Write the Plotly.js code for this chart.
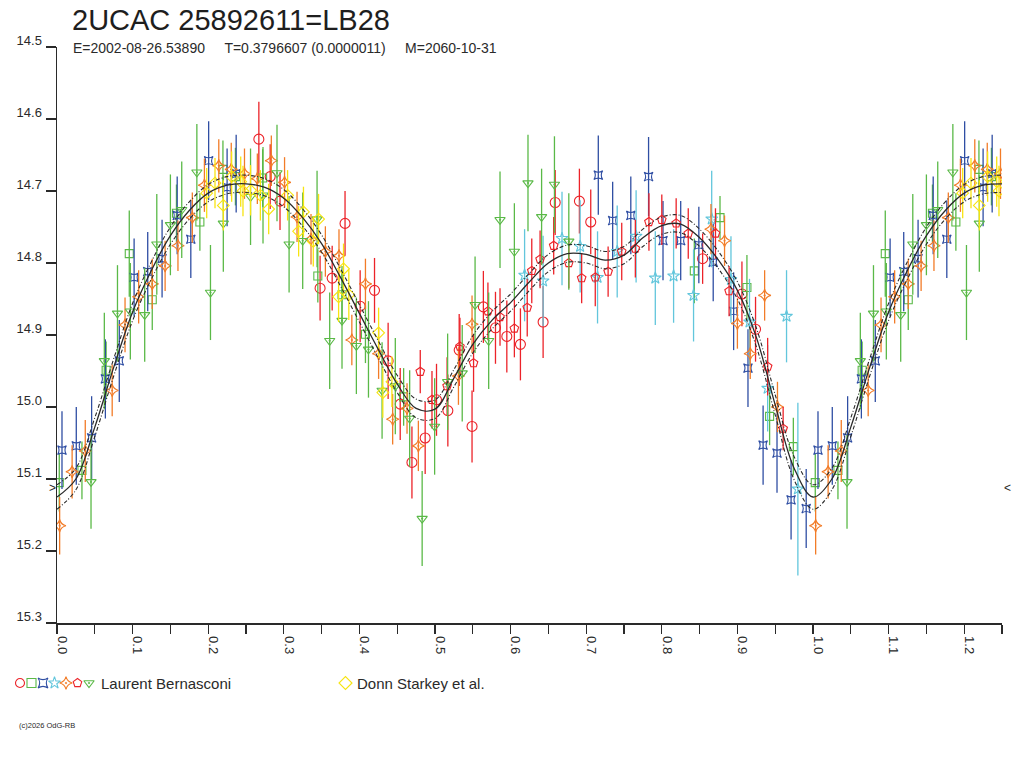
<!DOCTYPE html>
<html>
<head>
<meta charset="utf-8">
<script src="https://cdn.plot.ly/plotly-3.0.1.min.js"></script>
<style>
  html, body { margin: 0; padding: 0; background: #fff; }
  #chart { width: 1024px; height: 768px; }
</style>
</head>
<body>
<div id="chart"></div>
<script>
const W = 1024, H = 768
const PHASE_MAX = 1.25
const MIN_MARK = 15.113

const titleText = '2UCAC 25892611=LB28'
const subText = 'E=2002-08-26.53890\u00a0\u00a0\u00a0\u00a0\u00a0T=0.3796607 (0.0000011)\u00a0\u00a0\u00a0\u00a0\u00a0M=2060-10-31'
const observer1 = 'Laurent Bernasconi'
const observer2 = 'Donn Starkey et al.'

// fitted light curve (phase 0..1, repeated past 1)
const fitPhase = [0, 0.025, 0.05, 0.075, 0.1, 0.125, 0.15, 0.175, 0.2, 0.225, 0.25, 0.275, 0.3, 0.325, 0.35, 0.375,
  0.4, 0.425, 0.45, 0.475, 0.5, 0.525, 0.55, 0.575, 0.6, 0.625, 0.65, 0.675, 0.7, 0.725, 0.75, 0.775,
  0.8, 0.825, 0.85, 0.875, 0.9, 0.925, 0.95, 0.975]
const fitMag = [15.125, 15.100, 15.028, 14.945, 14.868, 14.810, 14.762, 14.727, 14.703, 14.692, 14.690, 14.695, 14.710, 14.737, 14.773, 14.820,
  14.870, 14.920, 14.968, 15.002, 15.003, 14.960, 14.913, 14.880, 14.855, 14.826, 14.800, 14.787, 14.788, 14.796, 14.789, 14.765,
  14.748, 14.746, 14.765, 14.796, 14.838, 14.903, 14.997, 15.085]
const fitErr = [0.017, 0.015, 0.013, 0.012, 0.012, 0.012, 0.012, 0.012, 0.012, 0.012, 0.012, 0.012, 0.012, 0.012, 0.012, 0.012,
  0.012, 0.012, 0.012, 0.013, 0.013, 0.012, 0.012, 0.012, 0.012, 0.012, 0.012, 0.012, 0.012, 0.012, 0.012, 0.012,
  0.012, 0.012, 0.012, 0.012, 0.012, 0.013, 0.014, 0.016]

// Laurent Bernasconi - red circles
const rcPhase = [0.267, 0.282, 0.295, 0.348, 0.364, 0.381, 0.401, 0.420, 0.438, 0.454, 0.4695, 0.487, 0.502, 0.517,
  0.532, 0.549, 0.564, 0.580, 0.595, 0.613, 0.643, 0.659, 0.691, 0.706, 0.854, 0.906, 0.924]
const rcMag = [14.628, 14.680, 14.714, 14.835, 14.821, 14.745, 14.860, 14.838, 14.936, 14.996, 15.077, 15.043, 14.990, 15.005,
  14.921, 15.027, 14.861, 14.890, 14.902, 14.913, 14.882, 14.716, 14.714, 14.743, 14.794, 14.843, 14.892]
const rcErr = [0.052, 0.045, 0.040, 0.045, 0.045, 0.045, 0.050, 0.045, 0.053, 0.050, 0.050, 0.050, 0.050, 0.050,
  0.050, 0.050, 0.050, 0.050, 0.050, 0.050, 0.050, 0.045, 0.045, 0.045, 0.035, 0.045, 0.045]

// green squares
const gsPhase = [0.003, 0.033, 0.065, 0.0956, 0.126, 0.158, 0.189, 0.2195, 0.236, 0.272, 0.345, 0.377, 0.408, 0.4585,
  0.843, 0.877, 0.9126, 0.9426, 0.974]
const gsMag = [15.105, 15.088, 14.949, 14.787, 14.851, 14.731, 14.743, 14.670, 14.680, 14.682, 14.818, 14.844, 14.899, 14.986,
  14.811, 14.737, 14.834, 15.013, 15.055]
const gsErr = [0.040, 0.040, 0.040, 0.060, 0.042, 0.040, 0.040, 0.040, 0.040, 0.040, 0.037, 0.040, 0.040, 0.040,
  0.045, 0.030, 0.045, 0.040, 0.040]

// blue squared stars
const bsPhase = [0.0066, 0.0255, 0.0458, 0.064, 0.0824, 0.102, 0.120, 0.139, 0.159, 0.177, 0.2006, 0.225, 0.237,
  0.716, 0.735, 0.759, 0.7825, 0.8016, 0.825, 0.849, 0.868, 0.895, 0.914, 0.934, 0.9524, 0.971, 0.991]
const bsMag = [15.060, 15.054, 15.043, 14.961, 14.936, 14.820, 14.812, 14.794, 14.734, 14.767, 14.658, 14.695, 14.676,
  14.678, 14.741, 14.734, 14.680, 14.769, 14.769, 14.775, 14.799, 14.867, 14.946, 15.053, 15.064, 15.129, 15.141]
const bsErr = [0.054, 0.054, 0.058, 0.055, 0.057, 0.054, 0.055, 0.054, 0.054, 0.054, 0.055, 0.054, 0.054,
  0.055, 0.054, 0.054, 0.055, 0.055, 0.055, 0.053, 0.054, 0.054, 0.054, 0.055, 0.055, 0.055, 0.055]

// cyan stars
const csPhase = [0.6185, 0.643, 0.668, 0.692, 0.715, 0.741, 0.766, 0.7914, 0.8156, 0.842, 0.866, 0.8915, 0.916, 0.940, 0.965, 0.980]
const csMag = [14.817, 14.825, 14.766, 14.777, 14.820, 14.784, 14.763, 14.821, 14.818, 14.845, 14.739, 14.823, 14.882, 14.974, 14.874, 15.114]
const csErr = [0.064, 0.063, 0.065, 0.064, 0.064, 0.064, 0.064, 0.065, 0.065, 0.064, 0.067, 0.060, 0.060, 0.060, 0.064, 0.120]

// orange four-point stars
const osPhase = [0.0035, 0.020, 0.0374, 0.073, 0.090, 0.108, 0.126, 0.143, 0.160, 0.179, 0.195, 0.214, 0.2305, 0.248,
  0.265, 0.2835, 0.301, 0.3175, 0.336, 0.355, 0.373, 0.390, 0.408, 0.4254, 0.444, 0.463, 0.478, 0.531, 0.549,
  0.865, 0.883, 0.900, 0.917, 0.936, 0.953]
const osMag = [15.165, 15.090, 15.061, 14.977, 14.886, 14.847, 14.829, 14.804, 14.776, 14.737, 14.692, 14.665, 14.670, 14.676,
  14.683, 14.658, 14.688, 14.736, 14.767, 14.784, 14.790, 14.907, 14.829, 14.926, 15.017, 15.002, 15.054, 14.957, 14.885,
  14.753, 14.769, 14.884, 14.926, 14.845, 15.000]
const osErr = [0.040, 0.037, 0.043, 0.036, 0.038, 0.037, 0.035, 0.035, 0.035, 0.035, 0.037, 0.037, 0.037, 0.035,
  0.035, 0.035, 0.035, 0.035, 0.035, 0.035, 0.037, 0.035, 0.035, 0.035, 0.035, 0.035, 0.035, 0.040, 0.040,
  0.035, 0.035, 0.035, 0.035, 0.035, 0.035]

// red pentagons
const rpPhase = [0.4805, 0.496, 0.516, 0.533, 0.551, 0.570, 0.586, 0.605, 0.622, 0.628, 0.639, 0.657, 0.677, 0.694,
  0.712, 0.729, 0.747, 0.765, 0.783, 0.800, 0.819, 0.835, 0.871, 0.889, 0.940, 0.9605]
const rpMag = [14.951, 14.990, 14.971, 14.916, 14.939, 14.867, 14.875, 14.891, 14.862, 14.811, 14.795, 14.776, 14.800, 14.821,
  14.820, 14.812, 14.784, 14.780, 14.743, 14.740, 14.745, 14.759, 14.759, 14.839, 14.944, 15.030]
const rpErr = [0.030, 0.040, 0.040, 0.040, 0.040, 0.040, 0.040, 0.040, 0.040, 0.045, 0.040, 0.040, 0.035, 0.035,
  0.040, 0.035, 0.040, 0.040, 0.040, 0.035, 0.035, 0.035, 0.035, 0.035, 0.040, 0.030]

// green triangles
const gtPhase = [0.045, 0.0626, 0.080, 0.097, 0.116, 0.132, 0.150, 0.165, 0.185, 0.203, 0.220, 0.256, 0.2725, 0.291,
  0.307, 0.325, 0.344, 0.3607, 0.377, 0.396, 0.412, 0.430, 0.4475, 0.4665, 0.483, 0.4995, 0.5167, 0.536, 0.553,
  0.571, 0.586, 0.605, 0.623, 0.641, 0.658, 0.677]
const gtMag = [15.104, 14.936, 14.870, 14.867, 14.872, 14.774, 14.747, 14.726, 14.674, 14.841, 14.745, 14.708, 14.706, 14.675,
  14.774, 14.769, 14.739, 14.908, 14.880, 14.915, 14.920, 14.977, 14.971, 15.016, 15.155, 15.027, 14.965, 14.953, 14.858,
  14.908, 14.740, 14.784, 14.689, 14.736, 14.691, 14.770]
const gtErr = [0.065, 0.067, 0.067, 0.067, 0.065, 0.070, 0.070, 0.067, 0.067, 0.066, 0.067, 0.067, 0.067, 0.067,
  0.067, 0.067, 0.067, 0.067, 0.067, 0.067, 0.067, 0.067, 0.067, 0.067, 0.066, 0.067, 0.067, 0.067, 0.067,
  0.067, 0.067, 0.067, 0.067, 0.067, 0.067, 0.067]

// Donn Starkey et al. - yellow diamonds
const ydPhase = [0.198, 0.209, 0.220, 0.231, 0.243, 0.246, 0.256, 0.269, 0.280, 0.305, 0.3196, 0.326, 0.339, 0.346,
  0.3725, 0.379, 0.386, 0.4254, 0.431, 0.443]
const ydMag = [14.703, 14.689, 14.720, 14.680, 14.687, 14.700, 14.699, 14.706, 14.725, 14.706, 14.756, 14.729, 14.770, 14.739,
  14.847, 14.808, 14.844, 14.897, 14.980, 14.965]
const ydErr = [0.035, 0.035, 0.035, 0.035, 0.035, 0.035, 0.035, 0.035, 0.035, 0.035, 0.035, 0.035, 0.035, 0.035,
  0.035, 0.035, 0.035, 0.035, 0.035, 0.035]

const RED = '#ec2329', GREEN = '#5ab947', BLUE = '#2f4ea3', CYAN = '#62c6dc', ORANGE = '#f27c28', YELLOW = '#f7e411'
const INK = '#2a2a2a'
const FONT = 'Liberation Sans, Arial, sans-serif'

// phase diagram convention: points with phase < 0.25 are shown again at phase + 1
function wrapX(ph) {
  return ph.concat(ph.filter(p => p + 1 <= PHASE_MAX).map(p => p + 1))
}
function wrapY(ph, v) {
  return v.concat(v.filter((_, i) => ph[i] + 1 <= PHASE_MAX))
}

function obsTrace(ph, mag, err, symbol, color, size) {
  return {
    type: 'scatter', mode: 'markers',
    x: wrapX(ph), y: wrapY(ph, mag),
    error_y: { type: 'data', array: wrapY(ph, err), visible: true, color: color, thickness: 1.3, width: 0 },
    marker: { symbol: symbol, size: size, color: color, line: { color: color, width: 1.1 } },
    xaxis: 'x', yaxis: 'y', hoverinfo: 'skip', showlegend: false
  }
}

function fitTrace(offsetSign, dash, width) {
  let y = fitMag.map((m, i) => m + offsetSign * fitErr[i])
  return {
    type: 'scatter', mode: 'lines',
    x: wrapX(fitPhase), y: wrapY(fitPhase, y),
    line: { color: INK, width: width, dash: dash, shape: 'spline', smoothing: 1 },
    xaxis: 'x', yaxis: 'y', hoverinfo: 'skip', showlegend: false
  }
}

const series1 = [
  { ph: rcPhase, mag: rcMag, err: rcErr, symbol: 'circle-open', color: RED, size: 10 },
  { ph: gsPhase, mag: gsMag, err: gsErr, symbol: 'square-open', color: GREEN, size: 8 },
  { ph: bsPhase, mag: bsMag, err: bsErr, symbol: 'star-square-open', color: BLUE, size: 8 },
  { ph: csPhase, mag: csMag, err: csErr, symbol: 'star-open', color: CYAN, size: 9 },
  { ph: osPhase, mag: osMag, err: osErr, symbol: 'star-diamond-open-dot', color: ORANGE, size: 9 },
  { ph: rpPhase, mag: rpMag, err: rpErr, symbol: 'pentagon-open', color: RED, size: 9 },
  { ph: gtPhase, mag: gtMag, err: gtErr, symbol: 'triangle-down-open-dot', color: GREEN, size: 9 }
]
const series2 = { ph: ydPhase, mag: ydMag, err: ydErr, symbol: 'diamond-open', color: YELLOW, size: 9 }

let traces = []
series1.concat([series2]).forEach(s => traces.push(obsTrace(s.ph, s.mag, s.err, s.symbol, s.color, s.size)))
traces.push(fitTrace(-1, '4px,2px,1px,2px', 1.1))
traces.push(fitTrace(1, '4px,2px,1px,2px', 1.1))
traces.push(fitTrace(0, 'solid', 1.3))

// legend row: one slot per symbol
const DONN_SLOT = 28.3
series1.forEach((s, i) => {
  traces.push({ type: 'scatter', mode: 'markers', x: [i], y: [0], xaxis: 'x2', yaxis: 'y2',
    marker: { symbol: s.symbol, size: 9, color: s.color, line: { color: s.color, width: 1.1 } },
    hoverinfo: 'skip', showlegend: false })
})
traces.push({ type: 'scatter', mode: 'markers', x: [DONN_SLOT], y: [0], xaxis: 'x2', yaxis: 'y2',
  marker: { symbol: series2.symbol, size: 10, color: series2.color, line: { color: series2.color, width: 1.1 } },
  hoverinfo: 'skip', showlegend: false })

const tickFont = { family: FONT, size: 13, color: INK }

let layout = {
  width: W, height: H,
  margin: { l: 0, r: 0, t: 0, b: 0 },
  paper_bgcolor: '#fff', plot_bgcolor: 'rgba(0,0,0,0)',
  showlegend: false,
  title: { text: titleText, x: 72 / W, xanchor: 'left', y: 1 - 20 / H, yanchor: 'middle',
    font: { family: FONT, size: 29, color: '#1e1e1e' } },
  xaxis: {
    domain: [57 / W, 1002 / W], range: [0, PHASE_MAX], anchor: 'y',
    tickmode: 'linear', tick0: 0, dtick: 0.1, tickformat: '.1f', tickangle: 90,
    ticks: 'outside', ticklen: 9, tickwidth: 1.3, tickcolor: INK,
    minor: { tick0: 0, dtick: 0.05, ticks: 'outside', ticklen: 9, tickwidth: 1.3, tickcolor: INK, showgrid: false },
    showline: true, linecolor: INK, linewidth: 1.5,
    showgrid: false, zeroline: false, tickfont: tickFont, ticklabelshift: 5, ticklabelstandoff: 0
  },
  yaxis: {
    domain: [1 - 623 / H, 1 - 47 / H], range: [15.3, 14.5], anchor: 'x',
    tickmode: 'linear', tick0: 14.5, dtick: 0.1, tickformat: '.1f',
    ticks: 'outside', ticklen: 10, tickwidth: 1.3, tickcolor: INK,
    showline: true, linecolor: INK, linewidth: 1.5,
    showgrid: false, zeroline: false, tickfont: tickFont, ticklabelshift: 7, ticklabelstandoff: 1
  },
  xaxis2: { domain: [0, 0.5], range: [-1.739, 42.78], anchor: 'y2', visible: false, fixedrange: true },
  yaxis2: { domain: [1 - 700 / H, 1 - 666 / H], range: [-1, 1], anchor: 'x2', visible: false, fixedrange: true },
  annotations: [
    { text: subText, xref: 'paper', yref: 'paper', x: 71 / W, y: 1 - 48 / H, xanchor: 'left', yanchor: 'middle',
      showarrow: false, font: { family: FONT, size: 14, color: INK } },
    { text: '>', xref: 'paper', yref: 'y', x: 52 / W, y: MIN_MARK, xanchor: 'center', yanchor: 'middle',
      showarrow: false, font: { family: FONT, size: 12, color: INK } },
    { text: '<', xref: 'paper', yref: 'y', x: 1007 / W, y: MIN_MARK, xanchor: 'center', yanchor: 'middle',
      showarrow: false, font: { family: FONT, size: 12, color: INK } },
    { text: observer1, xref: 'paper', yref: 'paper', x: 99 / W, y: 1 - 683 / H, xanchor: 'left', yanchor: 'middle',
      showarrow: false, font: { family: FONT, size: 15, color: INK } },
    { text: observer2, xref: 'paper', yref: 'paper', x: 355 / W, y: 1 - 683 / H, xanchor: 'left', yanchor: 'middle',
      showarrow: false, font: { family: FONT, size: 15, color: INK } },
    { text: '(c)2026 OdG-RB', xref: 'paper', yref: 'paper', x: 17 / W, y: 1 - 725 / H, xanchor: 'left', yanchor: 'middle',
      showarrow: false, font: { family: FONT, size: 7.5, color: INK } }
  ]
}

Plotly.newPlot('chart', traces, layout, { staticPlot: true, displayModeBar: false })
</script>
</body>
</html>
